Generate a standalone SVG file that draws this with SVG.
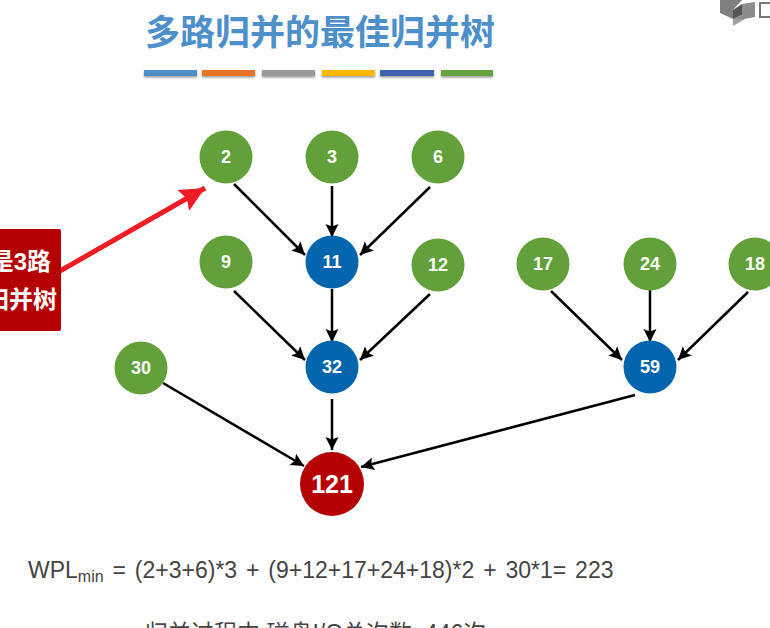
<svg xmlns="http://www.w3.org/2000/svg" width="770" height="628" viewBox="0 0 770 628">
<style>
text{font-family:"Liberation Sans","Noto Sans CJK SC",sans-serif}
.cjk{font-family:"Noto Sans CJK SC","Liberation Sans",sans-serif}
.n{font-size:18px;font-weight:700;fill:#fff;text-anchor:middle;dominant-baseline:central}
.g{fill:#62a03a}.b{fill:#0365ae}
.e{stroke:#000;stroke-width:2.500;fill:none;marker-end:url(#a)}
.bar{filter:url(#s)}
</style>
<defs>
<marker id="a" markerUnits="userSpaceOnUse" markerWidth="14" markerHeight="14" refX="13" refY="7" orient="auto"><path d="M0 0.500L13 7L0 13.500L2.500 7Z" fill="#000"/></marker>
<marker id="r" markerUnits="userSpaceOnUse" markerWidth="26" markerHeight="24" refX="25" refY="12" orient="auto"><path d="M0 0L25 12L0 24L4 12Z" fill="#ee1c25"/></marker>
<filter id="s" x="-10%" y="-50%" width="120%" height="250%"><feDropShadow dx="0" dy="1.500" stdDeviation="1" flood-color="#000" flood-opacity=".4"/></filter>
</defs>
<rect width="770" height="628" fill="#fff"/>
<g id="title"><text class="cjk" x="320" y="45" font-size="35" font-weight="700" fill="#4d8fca" text-anchor="middle">多路归并的最佳归并树</text></g>
<g id="bars">
<rect class="bar" x="144" y="70" width="53" height="6" fill="#4f8dc9"/>
<rect class="bar" x="202" y="70" width="53" height="6" fill="#e67326"/>
<rect class="bar" x="262" y="70" width="53" height="6" fill="#9a9a9a"/>
<rect class="bar" x="322" y="70" width="53" height="6" fill="#fdb900"/>
<rect class="bar" x="380" y="70" width="54" height="6" fill="#3d64b1"/>
<rect class="bar" x="441" y="70" width="52" height="6" fill="#66a23c"/>
</g>
<g id="logo">
<path d="M720 0H742L733 10V19L720 13Z" fill="#808080"/>
<path d="M733 10L742 4V15L733 19Z" fill="#555"/>
<path d="M742 4L755 2V17L733 21V19L742 15Z" fill="#8c8c8c"/>
<path d="M733 19L745 19L733 26Z" fill="#a0a0a0"/>
<rect x="760" y="3" width="14" height="14" fill="#fff" stroke="#777" stroke-width="2"/>
</g>
<g id="connectors">
<path class="e" d="M234 184L305 255"/>
<path class="e" d="M332 186V237"/>
<path class="e" d="M430 187L360 255"/>
<path class="e" d="M234 291L305 360"/>
<path class="e" d="M332 289V342"/>
<path class="e" d="M430 294L360 360"/>
<path class="e" d="M551 291L622 360"/>
<path class="e" d="M650 290V342"/>
<path class="e" d="M748 292L678 360"/>
<path class="e" d="M163 383L304 466"/>
<path class="e" d="M332 399V450"/>
<path class="e" d="M635 395L361 467"/>
<path d="M60 271L205 188" stroke="#ee1c25" stroke-width="5" fill="none" marker-end="url(#r)"/>
</g>
<g id="n2"><circle class="g" cx="226" cy="157" r="26.500"/><text class="n" x="226" y="157">2</text></g>
<g id="n3"><circle class="g" cx="332" cy="157" r="26.500"/><text class="n" x="332" y="157">3</text></g>
<g id="n6"><circle class="g" cx="438" cy="157" r="26.500"/><text class="n" x="438" y="157">6</text></g>
<g id="n9"><circle class="g" cx="226" cy="262" r="26.500"/><text class="n" x="226" y="262">9</text></g>
<g id="n11"><circle class="b" cx="332" cy="262" r="26.500"/><text class="n" x="332" y="262">11</text></g>
<g id="n12"><circle class="g" cx="438" cy="265" r="26.500"/><text class="n" x="438" y="265">12</text></g>
<g id="n17"><circle class="g" cx="543" cy="264" r="26.500"/><text class="n" x="543" y="264">17</text></g>
<g id="n24"><circle class="g" cx="650" cy="264" r="26.500"/><text class="n" x="650" y="264">24</text></g>
<g id="n18"><circle class="g" cx="755" cy="264" r="26.500"/><text class="n" x="755" y="264">18</text></g>
<g id="n30"><circle class="g" cx="141" cy="368" r="26.500"/><text class="n" x="141" y="368">30</text></g>
<g id="n32"><circle class="b" cx="332" cy="367" r="26.500"/><text class="n" x="332" y="367">32</text></g>
<g id="n59"><circle class="b" cx="650" cy="367" r="26.500"/><text class="n" x="650" y="367">59</text></g>
<g id="n121"><circle cx="332" cy="484" r="32" fill="#b40000"/><text class="n" x="332" y="484" style="font-size:25px">121</text></g>
<g id="note">
<rect x="-20" y="229" width="81" height="102" rx="2" fill="#b40000"/>
<text x="51" y="270" font-size="24" font-weight="700" fill="#fff" text-anchor="end">是3路</text>
<text x="57" y="308" font-size="24" font-weight="700" fill="#fff" text-anchor="end">归并树</text>
</g>
<g id="formula">
<text x="28" y="578" font-size="23" fill="#444">WPL<tspan font-size="16" dy="4">min</tspan><tspan dy="-4" word-spacing="2.500"> = (2+3+6)*3 + (9+12+17+24+18)*2 + 30*1= 223</tspan></text>
<text x="145" y="641" font-size="23" fill="#444">归并过程中,磁盘I/O总次数: 446次</text>
</g>
</svg>
